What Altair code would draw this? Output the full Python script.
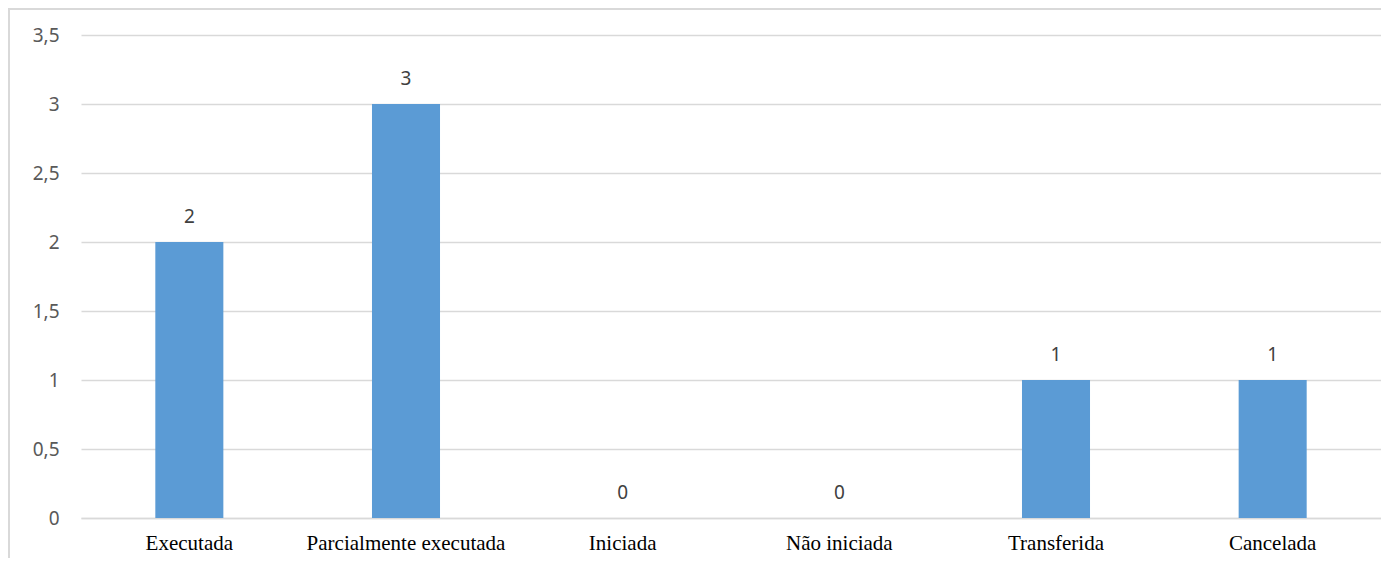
import altair as alt
import pandas as pd

categories = ["Executada", "Parcialmente executada", "Iniciada", "Não iniciada", "Transferida", "Cancelada"]
values = [2, 3, 0, 0, 1, 1]
y_ticks = [0, 0.5, 1, 1.5, 2, 2.5, 3, 3.5]

df = pd.DataFrame({"cat": categories, "val": values})

W, H = 1300, 483

x = alt.X("cat:N", sort=categories, title=None,
          scale=alt.Scale(paddingInner=0.686, paddingOuter=0.343),
          axis=alt.Axis(labelAngle=0, labelFont="Liberation Serif", labelFontSize=21,
                        labelColor="#000000", labelPadding=14, ticks=False, labelLimit=400,
                        domainColor="#D9D9D9", domainWidth=1.5, grid=False))
y = alt.Y("val:Q", title=None,
          scale=alt.Scale(domain=[0, 3.5], nice=False),
          axis=alt.Axis(values=y_ticks, labelExpr="replace(toString(datum.value), '.', ',')",
                        labelFont="Noto Sans", labelFontSize=19, labelColor="#595959",
                        labelPadding=22, ticks=False, domain=False,
                        gridColor="#D9D9D9", gridWidth=1.5))

bars = alt.Chart(df).mark_bar(color="#5B9BD5").encode(x=x, y=y)
labels = alt.Chart(df).mark_text(dy=-25, font="Noto Sans", fontSize=19, color="#404040").encode(
    x=alt.X("cat:N", sort=categories), y="val:Q", text="val:Q")

border = alt.Chart(df).mark_rect(fill=None, stroke="#D9D9D9", strokeWidth=1.5).encode(
    x=alt.value(-72), x2=alt.value(W + 40), y=alt.value(-26), y2=alt.value(H + 60))

chart = alt.layer(border, bars, labels).properties(
    width=W, height=H,
    autosize=alt.AutoSizeParams(type="none"),
    padding={"left": 73, "top": 27, "right": 0, "bottom": 40},
).configure_view(stroke=None)

chart.save("out.html", embed_options={"renderer": "svg", "actions": False})
